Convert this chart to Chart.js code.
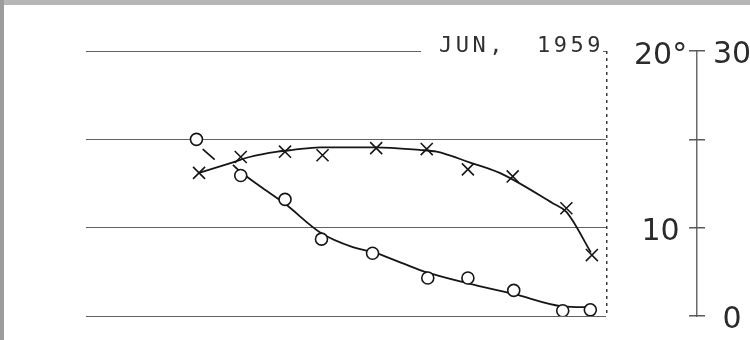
<!DOCTYPE html>
<html>
<head>
<meta charset="utf-8">
<script src="https://cdn.jsdelivr.net/npm/chart.js@4/dist/chart.umd.min.js"></script>
<style>
  html, body { margin: 0; padding: 0; background: #fff; overflow: hidden; }
  #wrap { width: 750px; height: 340px; position: relative; }
</style>
</head>
<body>
<div id="wrap"><canvas id="c" width="750" height="340"></canvas></div>
<script>
// Heading
const headingMonth = 'JUN,';
const headingYear = '1959';

// Observations marked with circles (right-hand 0–30 scale)
const circleX   = [21.2, 29.7, 38.2, 45.2, 55.0, 65.6, 73.3, 82.1, 91.5, 96.8];
const circleVal = [20.0, 15.9, 13.2, 8.7, 7.1, 4.3, 4.3, 2.9, 0.6, 0.7];

// Smoothed curve through the circles
const circleFitX   = [28.2, 29.7, 33.4, 38.2, 45.1, 51.2, 55.0, 60.2, 65.6, 73.3, 82.1, 91.5, 96.8];
const circleFitVal = [17.1, 16.3, 14.7, 12.7, 9.4, 7.8, 7.25, 6.1, 4.9, 3.7, 2.5, 1.1, 1.0];

// Short lead from the first circle towards the curve
const circleLeadX   = [22.4, 24.7];
const circleLeadVal = [18.9, 17.7];

// Observations marked with crosses (degree scale, 5–20)
const crossX   = [21.7, 29.7, 38.2, 45.4, 55.7, 65.4, 73.3, 81.9, 92.2, 97.1];
const crossVal = [13.1, 14.0, 14.3, 14.1, 14.5, 14.45, 13.3, 12.9, 11.1, 8.45];

// Smoothed curve through the crosses
const crossFitX   = [21.7, 28.2, 31.4, 36.8, 39.7, 44.9, 55.6, 64.0, 67.3, 73.6, 79.4, 89.5, 92.2, 93.4, 96.9];
const crossFitVal = [13.1, 13.7, 14.0, 14.3, 14.4, 14.55, 14.55, 14.4, 14.3, 13.7, 13.1, 11.4, 10.9, 10.4, 8.6];

// Axis tick labels
const degreeTicks = { 10: '10', 20: '20°' };
const rightTicks  = { 0: '0', 30: '30' };

const pts = (xs, ys) => xs.map((x, i) => ({ x: x, y: ys[i] }));
const INK = '#161616';

function align(p, w) {
  return Math.round(p - w / 2) + w / 2;
}

const decor = {
  id: 'sheetDecor',
  beforeDraw(chart) {
    const ctx = chart.ctx;
    ctx.save();
    ctx.fillStyle = '#ffffff';
    ctx.fillRect(0, 0, chart.width, chart.height);
    // sheet edge shading
    ctx.fillStyle = '#b6b6b6';
    ctx.fillRect(0, 0, chart.width, 5);
    ctx.fillStyle = '#9c9c9c';
    ctx.fillRect(0, 0, 4, chart.height);
    ctx.restore();
  },
  afterDraw(chart) {
    const ctx = chart.ctx;
    const area = chart.chartArea;
    const yR = chart.scales.yR;
    ctx.save();
    // heading sits on the top rule
    ctx.fillStyle = '#ffffff';
    ctx.fillRect(421, area.top - 6, area.right - 425, 12);
    ctx.fillStyle = '#303030';
    ctx.font = '22px "DejaVu Sans Mono"';
    ctx.textBaseline = 'alphabetic';
    if ('letterSpacing' in ctx) ctx.letterSpacing = '3.5px';
    ctx.fillText(headingMonth, 439, area.top + 1);
    ctx.fillText(headingYear, 537, area.top + 1);
    // right axis tick marks crossing the axis line
    ctx.strokeStyle = '#5a5a5a';
    ctx.lineWidth = 1.5;
    ctx.beginPath();
    yR.ticks.forEach(t => {
      const y = align(yR.getPixelForValue(t.value), 1.5);
      ctx.moveTo(yR.left - 8, y);
      ctx.lineTo(yR.left + 8, y);
    });
    ctx.stroke();
    ctx.restore();
  }
};

new Chart(document.getElementById('c'), {
  type: 'scatter',
  data: {
    datasets: [
      {
        label: 'circles',
        data: pts(circleX, circleVal),
        yAxisID: 'yR',
        showLine: false,
        pointStyle: 'circle',
        pointRadius: 6,
        pointBorderWidth: 1.6,
        pointBorderColor: INK,
        pointBackgroundColor: '#ffffff',
        order: 0
      },
      {
        label: 'crosses',
        data: pts(crossX, crossVal),
        yAxisID: 'yL',
        showLine: false,
        pointStyle: 'crossRot',
        pointRadius: 8.5,
        pointBorderWidth: 1.6,
        pointBorderColor: INK,
        order: 1
      },
      {
        label: 'circle curve',
        data: pts(circleFitX, circleFitVal),
        yAxisID: 'yR',
        showLine: true,
        pointRadius: 0,
        borderColor: INK,
        borderWidth: 1.8,
        cubicInterpolationMode: 'monotone',
        order: 2
      },
      {
        label: 'circle lead',
        data: pts(circleLeadX, circleLeadVal),
        yAxisID: 'yR',
        showLine: true,
        pointRadius: 0,
        borderColor: INK,
        borderWidth: 1.8,
        order: 3
      },
      {
        label: 'cross curve',
        data: pts(crossFitX, crossFitVal),
        yAxisID: 'yL',
        showLine: true,
        pointRadius: 0,
        borderColor: INK,
        borderWidth: 1.8,
        cubicInterpolationMode: 'monotone',
        order: 4
      }
    ]
  },
  options: {
    responsive: false,
    animation: false,
    devicePixelRatio: 1,
    layout: { padding: { left: 86, top: 51, bottom: 0, right: 0 } },
    plugins: { legend: { display: false }, tooltip: { enabled: false } },
    elements: { line: { tension: 0 } },
    scales: {
      x: {
        type: 'linear',
        min: 0,
        max: 100,
        ticks: { display: false, stepSize: 100 },
        grid: {
          drawTicks: false,
          lineWidth: 1.5,
          color: ctx => (ctx.tick && ctx.tick.value === 100) ? '#3c3c3c' : 'rgba(0,0,0,0)'
        },
        border: { display: false, dash: [3, 4] },
        afterFit: s => { s.height = 24; }
      },
      yL: {
        type: 'linear',
        position: 'right',
        weight: 0,
        min: 5,
        max: 20,
        grid: { display: false, drawTicks: true, tickLength: 27 },
        border: { display: false },
        ticks: {
          stepSize: 5,
          padding: 0,
          labelOffset: 5,
          crossAlign: 'center',
          color: '#2b2b2b',
          font: { family: '"DejaVu Sans"', size: 30 },
          callback: v => degreeTicks[v] || ''
        },
        afterFit: s => { s.width = 90; }
      },
      yR: {
        type: 'linear',
        position: 'right',
        weight: 1,
        min: 0,
        max: 30,
        grid: {
          color: '#626262',
          lineWidth: 1,
          drawTicks: true,
          tickLength: 16,
          tickColor: 'rgba(0,0,0,0)'
        },
        border: { display: true, color: '#6a6a6a', width: 1.5 },
        ticks: {
          stepSize: 10,
          padding: 0,
          labelOffset: 4,
          crossAlign: 'center',
          color: '#2b2b2b',
          font: { family: '"DejaVu Sans"', size: 30 },
          callback: v => rightTicks[v] || ''
        },
        afterFit: s => { s.width = 53; }
      }
    }
  },
  plugins: [decor]
});
</script>
</body>
</html>
